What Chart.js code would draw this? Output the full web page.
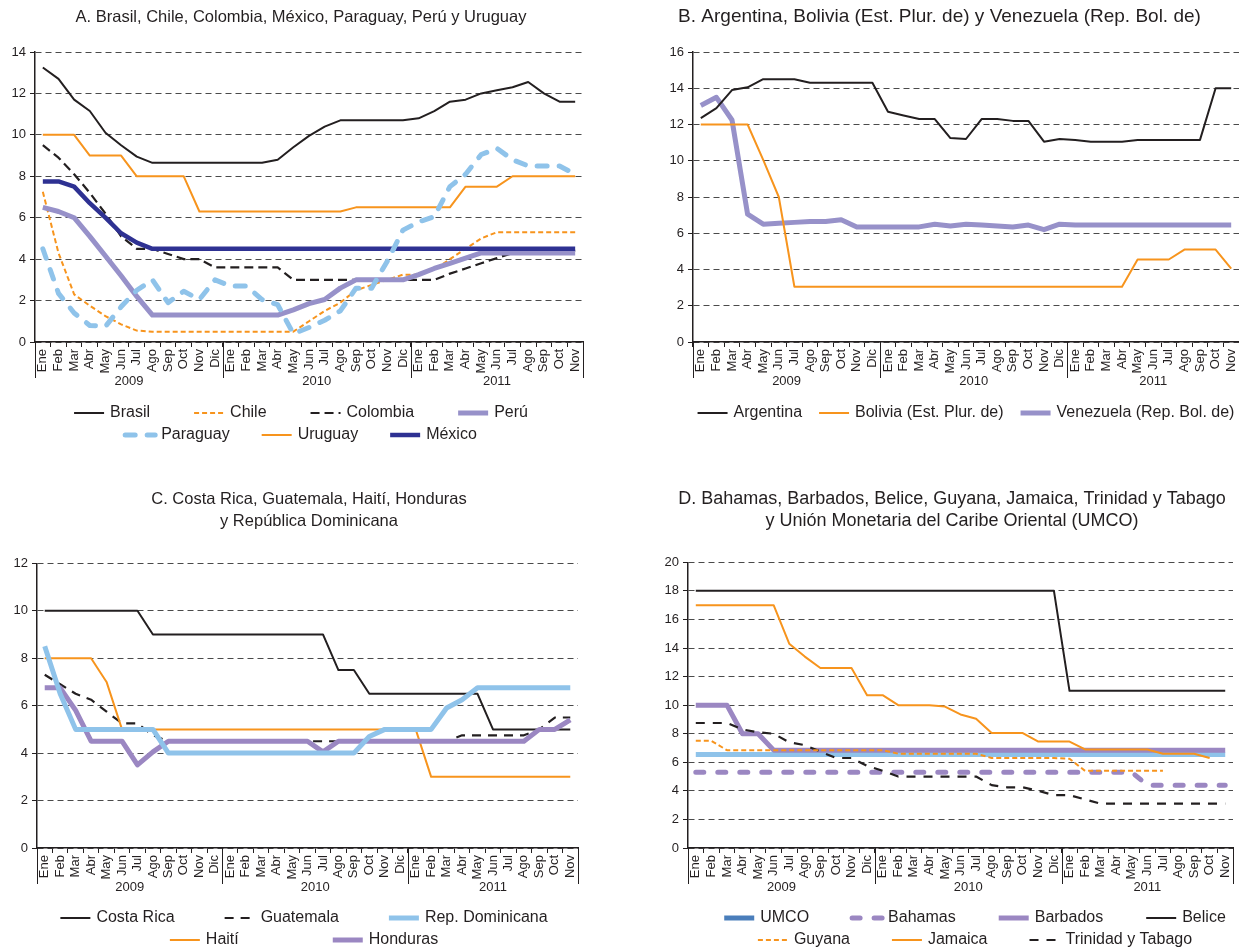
<!DOCTYPE html>
<html>
<head>
<meta charset="utf-8">
<script src="https://cdn.jsdelivr.net/npm/chart.js@4.4.1/dist/chart.umd.min.js"></script>
<style>
  html, body { margin: 0; padding: 0; background: #fff; }
  body { width: 1239px; height: 951px; position: relative; overflow: hidden; }
  canvas { position: absolute; }
</style>
</head>
<body>
<canvas id="chartA" width="602" height="470" style="left:0;top:0"></canvas>
<canvas id="chartB" width="599" height="470" style="left:640px;top:0"></canvas>
<canvas id="chartC" width="618" height="481" style="left:0;top:470px"></canvas>
<canvas id="chartD" width="614" height="481" style="left:645px;top:470px"></canvas>
<script>
const MONTHS = ['Ene', 'Feb', 'Mar', 'Abr', 'May', 'Jun', 'Jul', 'Ago', 'Sep', 'Oct', 'Nov', 'Dic'];
const YEARS = ['2009', '2010', '2011'];
const YEAR_COUNTS = [12, 12, 11];
const LABELS = [...MONTHS, ...MONTHS, ...MONTHS.slice(0, 11)];

// A. Brasil, Chile, Colombia, México, Paraguay, Perú y Uruguay
const A_BRASIL = [13.25, 12.7, 11.7, 11.15, 10.1, 9.5, 8.95, 8.65, 8.65, 8.65, 8.65, 8.65,
  8.65, 8.65, 8.65, 8.8, 9.4, 9.95, 10.4, 10.7, 10.7, 10.7, 10.7, 10.7,
  10.8, 11.15, 11.6, 11.7, 12.0, 12.15, 12.3, 12.55, 12.0, 11.6, 11.6];
const A_CHILE = [7.25, 4.3, 2.3, 1.75, 1.25, 0.85, 0.55, 0.5, 0.5, 0.5, 0.5, 0.5,
  0.5, 0.5, 0.5, 0.5, 0.5, 1.0, 1.5, 1.9, 2.5, 2.75, 3.0, 3.25,
  3.25, 3.5, 4.0, 4.5, 5.0, 5.3, 5.3, 5.3, 5.3, 5.3, 5.3];
const A_COLOMBIA = [9.5, 8.9, 8.1, 7.2, 6.2, 5.1, 4.5, 4.5, 4.25, 4.0, 4.0, 3.6,
  3.6, 3.6, 3.6, 3.6, 3.0, 3.0, 3.0, 3.0, 3.0, 3.0, 3.0, 3.0,
  3.0, 3.0, 3.3, 3.55, 3.8, 4.05, 4.3, 4.4, 4.4, 4.4, 4.4];
const A_PERU = [6.5, 6.3, 6.0, 5.1, 4.15, 3.2, 2.2, 1.3, 1.3, 1.3, 1.3, 1.3,
  1.3, 1.3, 1.3, 1.3, 1.55, 1.85, 2.05, 2.6, 3.0, 3.0, 3.0, 3.0,
  3.25, 3.55, 3.8, 4.05, 4.3, 4.3, 4.3, 4.3, 4.3, 4.3, 4.3];
const A_PARAGUAY = [4.5, 2.35, 1.4, 0.8, 0.75, 1.7, 2.5, 3.0, 1.9, 2.45, 2.05, 3.0,
  2.7, 2.7, 2.05, 1.8, 0.4, 0.7, 1.05, 1.5, 2.6, 2.6, 3.9, 5.4,
  5.8, 6.05, 7.5, 8.1, 9.05, 9.35, 8.8, 8.5, 8.5, 8.5, 8.1];
const A_URUGUAY = [10, 10, 10, 9, 9, 9, 8, 8, 8, 8, 6.3, 6.3,
  6.3, 6.3, 6.3, 6.3, 6.3, 6.3, 6.3, 6.3, 6.5, 6.5, 6.5, 6.5,
  6.5, 6.5, 6.5, 7.5, 7.5, 7.5, 8, 8, 8, 8, 8];
const A_MEXICO = [7.75, 7.75, 7.5, 6.7, 6.0, 5.25, 4.8, 4.5, 4.5, 4.5, 4.5, 4.5,
  4.5, 4.5, 4.5, 4.5, 4.5, 4.5, 4.5, 4.5, 4.5, 4.5, 4.5, 4.5,
  4.5, 4.5, 4.5, 4.5, 4.5, 4.5, 4.5, 4.5, 4.5, 4.5, 4.5];

// B. Argentina, Bolivia, Venezuela
const B_ARGENTINA = [12.35, 12.9, 13.9, 14.05, 14.5, 14.5, 14.5, 14.3, 14.3, 14.3, 14.3, 14.3,
  12.7, 12.5, 12.3, 12.3, 11.25, 11.2, 12.3, 12.3, 12.2, 12.2, 11.05, 11.2,
  11.15, 11.05, 11.05, 11.05, 11.15, 11.15, 11.15, 11.15, 11.15, 14.0, 14.0];
const B_BOLIVIA = [12, 12, 12, 12, 10.05, 8.0, 3.05, 3.05, 3.05, 3.05, 3.05, 3.05,
  3.05, 3.05, 3.05, 3.05, 3.05, 3.05, 3.05, 3.05, 3.05, 3.05, 3.05, 3.05,
  3.05, 3.05, 3.05, 3.05, 4.55, 4.55, 4.55, 5.1, 5.1, 5.1, 4.05];
const B_VENEZUELA = [13.05, 13.5, 12.25, 7.05, 6.5, 6.55, 6.6, 6.65, 6.65, 6.75, 6.35, 6.35,
  6.35, 6.35, 6.35, 6.5, 6.4, 6.5, 6.45, 6.4, 6.35, 6.45, 6.2, 6.5,
  6.45, 6.45, 6.45, 6.45, 6.45, 6.45, 6.45, 6.45, 6.45, 6.45, 6.45];

// C. Costa Rica, Guatemala, Haití, Honduras, República Dominicana
const C_COSTA_RICA = [10, 10, 10, 10, 10, 10, 10, 9, 9, 9, 9, 9,
  9, 9, 9, 9, 9, 9, 9, 7.5, 7.5, 6.5, 6.5, 6.5,
  6.5, 6.5, 6.5, 6.5, 6.5, 5, 5, 5, 5, 5, 5];
const C_GUATEMALA = [7.3, 6.9, 6.5, 6.25, 5.75, 5.25, 5.25, 4.75, 4.5, 4.5, 4.5, 4.5,
  4.5, 4.5, 4.5, 4.5, 4.5, 4.5, 4.5, 4.5, 4.5, 4.5, 4.5, 4.5,
  4.5, 4.5, 4.5, 4.75, 4.75, 4.75, 4.75, 4.75, 5.0, 5.5, 5.5];
const C_REP_DOM = [8.5, 6.5, 5, 5, 5, 5, 5, 5, 4, 4, 4, 4,
  4, 4, 4, 4, 4, 4, 4, 4, 4, 4.7, 5, 5,
  5, 5, 5.9, 6.25, 6.75, 6.75, 6.75, 6.75, 6.75, 6.75, 6.75];
const C_HAITI = [8, 8, 8, 8, 7, 5, 5, 5, 5, 5, 5, 5,
  5, 5, 5, 5, 5, 5, 5, 5, 5, 5, 5, 5,
  5, 3, 3, 3, 3, 3, 3, 3, 3, 3, 3];
const C_HONDURAS = [6.75, 6.75, 5.8, 4.5, 4.5, 4.5, 3.5, 4.05, 4.5, 4.5, 4.5, 4.5,
  4.5, 4.5, 4.5, 4.5, 4.5, 4.5, 4.05, 4.5, 4.5, 4.5, 4.5, 4.5,
  4.5, 4.5, 4.5, 4.5, 4.5, 4.5, 4.5, 4.5, 5.0, 5.0, 5.4];

// D. Bahamas, Barbados, Belice, Guyana, Jamaica, Trinidad y Tabago, UMCO
const D_UMCO = [6.55, 6.55, 6.55, 6.55, 6.55, 6.55, 6.55, 6.55, 6.55, 6.55, 6.55, 6.55,
  6.55, 6.55, 6.55, 6.55, 6.55, 6.55, 6.55, 6.55, 6.55, 6.55, 6.55, 6.55,
  6.55, 6.55, 6.55, 6.55, 6.55, 6.55, 6.55, 6.55, 6.55, 6.55, 6.55];
const D_BAHAMAS = [5.3, 5.3, 5.3, 5.3, 5.3, 5.3, 5.3, 5.3, 5.3, 5.3, 5.3, 5.3,
  5.3, 5.3, 5.3, 5.3, 5.3, 5.3, 5.3, 5.3, 5.3, 5.3, 5.3, 5.3,
  5.3, 5.3, 5.3, 5.3, 5.3, 4.4, 4.4, 4.4, 4.4, 4.4, 4.4];
const D_BARBADOS = [10, 10, 10, 8, 8, 6.85, 6.85, 6.85, 6.85, 6.85, 6.85, 6.85,
  6.85, 6.85, 6.85, 6.85, 6.85, 6.85, 6.85, 6.85, 6.85, 6.85, 6.85, 6.85,
  6.85, 6.85, 6.85, 6.85, 6.85, 6.85, 6.85, 6.85, 6.85, 6.85, 6.85];
const D_BELICE = [18, 18, 18, 18, 18, 18, 18, 18, 18, 18, 18, 18,
  18, 18, 18, 18, 18, 18, 18, 18, 18, 18, 18, 18,
  11, 11, 11, 11, 11, 11, 11, 11, 11, 11, 11];
const D_GUYANA = [7.5, 7.5, 6.85, 6.85, 6.85, 6.85, 6.85, 6.85, 6.85, 6.85, 6.85, 6.85,
  6.85, 6.6, 6.6, 6.6, 6.6, 6.6, 6.6, 6.3, 6.3, 6.3, 6.3, 6.3,
  6.25, 5.4, 5.4, 5.4, 5.4, 5.4, 5.4, null, null, null, null];
const D_JAMAICA = [17, 17, 17, 17, 17, 17, 14.3, 13.4, 12.6, 12.6, 12.6, 10.7,
  10.7, 10.0, 10.0, 10.0, 9.9, 9.35, 9.05, 8.05, 8.05, 8.05, 7.45, 7.45,
  7.45, 6.9, 6.9, 6.9, 6.9, 6.9, 6.6, 6.6, 6.6, 6.3, null];
const D_TRINIDAD = [8.75, 8.75, 8.75, 8.3, 8.1, 8.0, 7.4, 7.2, 6.75, 6.3, 6.3, 5.75,
  5.4, 5.0, 5.0, 5.0, 5.0, 5.0, 5.0, 4.4, 4.25, 4.25, 4.0, 3.7,
  3.7, 3.4, 3.1, 3.1, 3.1, 3.1, 3.1, 3.1, 3.1, 3.1, 3.1];

const FONT = "'Liberation Sans', Arial, Helvetica, sans-serif";
const INK = '#231f20';
const GRID = '#4a4a4a';
const ORANGE = '#f7941d';
const LAVENDER = '#9791c9';
const PURPLE = '#9b87c2';
const SKY = '#8fc3ea';
const NAVY = '#2e3192';
const STEEL = '#4a7ebb';

Chart.defaults.font.family = FONT;
Chart.defaults.color = INK;

function series(label, data, color, width, dash, order, extra) {
  return Object.assign({
    label: label,
    data: data,
    order: order,
    borderColor: color,
    backgroundColor: color,
    borderWidth: width,
    borderDash: dash,
    borderJoinStyle: 'round',
    pointRadius: 0,
    tension: 0,
    fill: false,
  }, extra || {});
}

// separators and year names under the month labels
function yearAxisPlugin() {
  return {
    id: 'yearAxis',
    afterDraw(chart) {
      const {ctx, chartArea} = chart;
      const x = chart.scales.x;
      const half = (x.getPixelForValue(1) - x.getPixelForValue(0)) / 2;
      const base = chartArea.bottom;
      const edges = [x.getPixelForValue(0) - half];
      ctx.save();
      ctx.fillStyle = INK;
      ctx.font = '13px ' + FONT;
      ctx.textAlign = 'center';
      ctx.textBaseline = 'middle';
      let start = 0;
      YEARS.forEach((year, k) => {
        const end = start + YEAR_COUNTS[k] - 1;
        const left = x.getPixelForValue(start) - half;
        const right = x.getPixelForValue(end) + half;
        ctx.fillText(year, (left + right) / 2, base + 39);
        edges.push(right);
        start = end + 1;
      });
      ctx.strokeStyle = INK;
      ctx.lineWidth = 1;
      ctx.beginPath();
      edges.forEach(px => {
        const p = Math.round(px) + 0.5;
        ctx.moveTo(p, base);
        ctx.lineTo(p, base + 36);
      });
      ctx.stroke();
      ctx.restore();
    }
  };
}

// legend drawn as line swatches, rows as in the original
function lineLegendPlugin(opts) {
  const SWATCH = 30;
  const TEXT_GAP = 6;
  return {
    id: 'lineLegend',
    afterDraw(chart) {
      const {ctx, chartArea} = chart;
      const sets = chart.data.datasets;
      ctx.save();
      ctx.font = '16px ' + FONT;
      ctx.textBaseline = 'middle';
      ctx.textAlign = 'left';
      opts.rows.forEach((row, r) => {
        const widths = row.map(i => SWATCH + TEXT_GAP + ctx.measureText(sets[i].label).width);
        const total = widths.reduce((a, b) => a + b, 0) + opts.gaps[r] * (row.length - 1);
        let x = opts.cx - total / 2;
        const y = chartArea.bottom + opts.top + r * 22;
        row.forEach((i, k) => {
          const ds = sets[i];
          ctx.save();
          ctx.strokeStyle = ds.legendColor || ds.borderColor;
          ctx.lineWidth = ds.borderWidth;
          ctx.lineCap = ds.borderCapStyle || 'butt';
          ctx.setLineDash(ds.borderDash || []);
          ctx.beginPath();
          ctx.moveTo(x, y);
          ctx.lineTo(x + SWATCH, y);
          ctx.stroke();
          ctx.restore();
          ctx.fillStyle = INK;
          ctx.fillText(ds.label, x + SWATCH + TEXT_GAP, y);
          x += widths[k] + opts.gaps[r];
        });
      });
      ctx.restore();
    }
  };
}

function makeChart(id, cfg) {
  return new Chart(document.getElementById(id), {
    type: 'line',
    data: {
      labels: LABELS,
      datasets: cfg.datasets,
    },
    options: {
      responsive: false,
      animation: false,
      events: [],
      layout: {
        padding: {top: 0, left: 0, right: 0, bottom: cfg.bottomPad},
      },
      plugins: {
        legend: {display: false},
        tooltip: {enabled: false},
        title: {
          display: true,
          text: cfg.title,
          color: INK,
          font: {size: cfg.titleSize, weight: 'normal', lineHeight: '22px'},
          padding: {top: cfg.titleTop, bottom: cfg.titleBottom},
        },
      },
      scales: {
        x: {
          offset: true,
          afterFit(scale) {
            scale.height = 48;
            scale.paddingLeft = 0;
            scale.paddingRight = 0;
          },
          ticks: {
            autoSkip: false,
            maxRotation: 90,
            minRotation: 90,
            color: INK,
            font: {size: 13},
            padding: 2,
          },
          grid: {
            offset: true,
            drawOnChartArea: false,
            drawTicks: true,
            tickLength: 5,
            color: INK,
            tickColor: INK,
          },
          border: {display: true, color: INK, width: 1.5},
        },
        y: {
          min: 0,
          max: cfg.yMax,
          afterFit(scale) {
            scale.width = cfg.yWidth;
          },
          ticks: {stepSize: 2, color: INK, font: {size: 13}, padding: 4},
          grid: {color: GRID, lineWidth: 1, tickLength: 5, tickColor: INK},
          border: {display: true, color: INK, width: 1.5, dash: [6, 4]},
        },
        pad: {
          position: 'right',
          display: cfg.rightPad > 0,
          afterFit(scale) {
            scale.width = cfg.rightPad;
          },
          ticks: {display: false},
          grid: {display: false, drawTicks: false},
          border: {display: false},
        },
      },
    },
    plugins: [yearAxisPlugin(), lineLegendPlugin(cfg.legend)],
  });
}

makeChart('chartA', {
  title: 'A. Brasil, Chile, Colombia, México, Paraguay, Perú y Uruguay',
  titleSize: 16.5, titleTop: 6, titleBottom: 24,
  yMax: 14, yWidth: 35, rightPad: 19, bottomPad: 80,
  legend: {rows: [[0, 1, 2, 3], [4, 5, 6]], gaps: [44, 32], cx: 301, top: 71},
  datasets: [
    series('Brasil', A_BRASIL, INK, 2, [], 5),
    series('Chile', A_CHILE, ORANGE, 2, [5, 3], 3),
    series('Colombia', A_COLOMBIA, INK, 2.2, [9, 5], 6),
    series('Perú', A_PERU, LAVENDER, 5, [], 2),
    series('Paraguay', A_PARAGUAY, SKY, 5, [10, 12], 0, {borderCapStyle: 'round'}),
    series('Uruguay', A_URUGUAY, ORANGE, 2, [], 4),
    series('México', A_MEXICO, NAVY, 4.5, [], 1),
  ],
});

makeChart('chartB', {
  title: 'B. Argentina, Bolivia (Est. Plur. de) y Venezuela (Rep. Bol. de)',
  titleSize: 19, titleTop: 6, titleBottom: 24,
  yMax: 16, yWidth: 53, rightPad: 0, bottomPad: 80,
  legend: {rows: [[0, 1, 2]], gaps: [17], cx: 326, top: 71},
  datasets: [
    series('Argentina', B_ARGENTINA, INK, 2, [], 0),
    series('Bolivia (Est. Plur. de)', B_BOLIVIA, ORANGE, 2, [], 1),
    series('Venezuela (Rep. Bol. de)', B_VENEZUELA, LAVENDER, 5, [], 2),
  ],
});

makeChart('chartC', {
  title: ['C. Costa Rica, Guatemala, Haití, Honduras', 'y República Dominicana'],
  titleSize: 16.5, titleTop: 18, titleBottom: 31.3,
  yMax: 12, yWidth: 37, rightPad: 40, bottomPad: 55,
  legend: {rows: [[0, 1, 2], [3, 4]], gaps: [50, 94], cx: 304, top: 70},
  datasets: [
    series('Costa Rica', C_COSTA_RICA, INK, 2, [], 3),
    series('Guatemala', C_GUATEMALA, INK, 2.2, [9, 7], 4),
    series('Rep. Dominicana', C_REP_DOM, SKY, 5, [], 0),
    series('Haití', C_HAITI, ORANGE, 2, [], 2),
    series('Honduras', C_HONDURAS, PURPLE, 5, [], 1),
  ],
});

makeChart('chartD', {
  title: ['D. Bahamas, Barbados, Belice, Guyana, Jamaica, Trinidad y Tabago',
    'y Unión Monetaria del Caribe Oriental (UMCO)'],
  titleSize: 18, titleTop: 18, titleBottom: 30.3,
  yMax: 20, yWidth: 43, rightPad: 26, bottomPad: 55,
  legend: {rows: [[0, 1, 2, 3], [4, 5, 6]], gaps: [43, 42], cx: 330, top: 70},
  datasets: [
    series('UMCO', D_UMCO, SKY, 5, [], 6, {legendColor: STEEL}),
    series('Bahamas', D_BAHAMAS, PURPLE, 5, [8, 14], 5, {borderCapStyle: 'round'}),
    series('Barbados', D_BARBADOS, PURPLE, 5, [], 4),
    series('Belice', D_BELICE, INK, 2, [], 3),
    series('Guyana', D_GUYANA, ORANGE, 2, [5, 3], 0),
    series('Jamaica', D_JAMAICA, ORANGE, 2, [], 1),
    series('Trinidad y Tabago', D_TRINIDAD, INK, 2.2, [9, 8], 2),
  ],
});
</script>
</body>
</html>
